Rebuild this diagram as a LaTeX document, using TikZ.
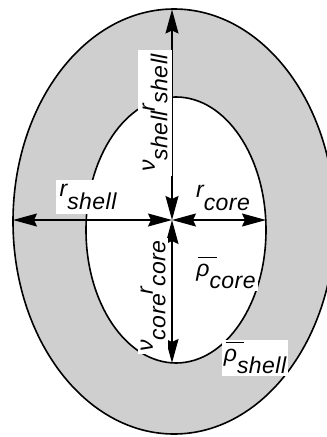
\documentclass[tikz,border=0pt]{standalone}
\usepackage{fontspec}
\setmainfont{Liberation Sans}[LetterSpace=2]
\usetikzlibrary{arrows.meta}
\newcommand{\lowr}[1]{\raisebox{-0.55em}{#1}}
\newcommand{\barrho}{\rlap{\kern0.08em\raisebox{0.78em}{\rule{0.8em}{1.3pt}}}ρ}
\begin{document}
\begin{tikzpicture}[x=1pt,y=-1pt,
  dim/.style={line width=1.4pt,{Stealth[length=24pt,width=13pt,inset=3pt]}-{Stealth[length=24pt,width=13pt,inset=3pt]}},
  lab/.style={fill=white,inner sep=2pt,font=\fontsize{23}{27}\selectfont\itshape}]
\useasboundingbox (0,0) rectangle (327,437);
\begin{scope}
\clip (0,0) rectangle (327,437);
\fill[black!19] (174,221.5) ellipse [x radius=161pt,y radius=212.5pt];
\fill[white] (176,230) ellipse [x radius=90pt,y radius=133pt];
\draw[line width=1.6pt] (174,221.5) ellipse [x radius=161pt,y radius=212.5pt];
\draw[line width=1.6pt] (176,230) ellipse [x radius=90pt,y radius=133pt];
\end{scope}
% centre and the ends of the four radii
\coordinate (o) at (172,220);
\coordinate (top) at (172,9.5);
\coordinate (left) at (13,220);
\coordinate (right) at (266,220);
\coordinate (bot) at (172,363);
\foreach \e in {top,left,right,bot}{\draw[dim] (o) -- (\e);}
% labels
\node[lab,rotate=90,inner sep=4pt] (nushell) at (155,113) {ν\lowr{shell}r\lowr{shell}};
\node[lab,inner sep=4pt] (rshell) at (88,197) {r\lowr{shell}};
\node[lab] (rcore) at (223,198) {r\lowr{core}};
\node[lab,rotate=90] (nucore) at (153,296) {ν\lowr{core}r\lowr{core}};
\node[lab] (rhocore) at (226,273) {\barrho\lowr{core}};
\node[lab] (rhoshell) at (255,358) {\barrho\lowr{shell}};
\end{tikzpicture}
\end{document}
